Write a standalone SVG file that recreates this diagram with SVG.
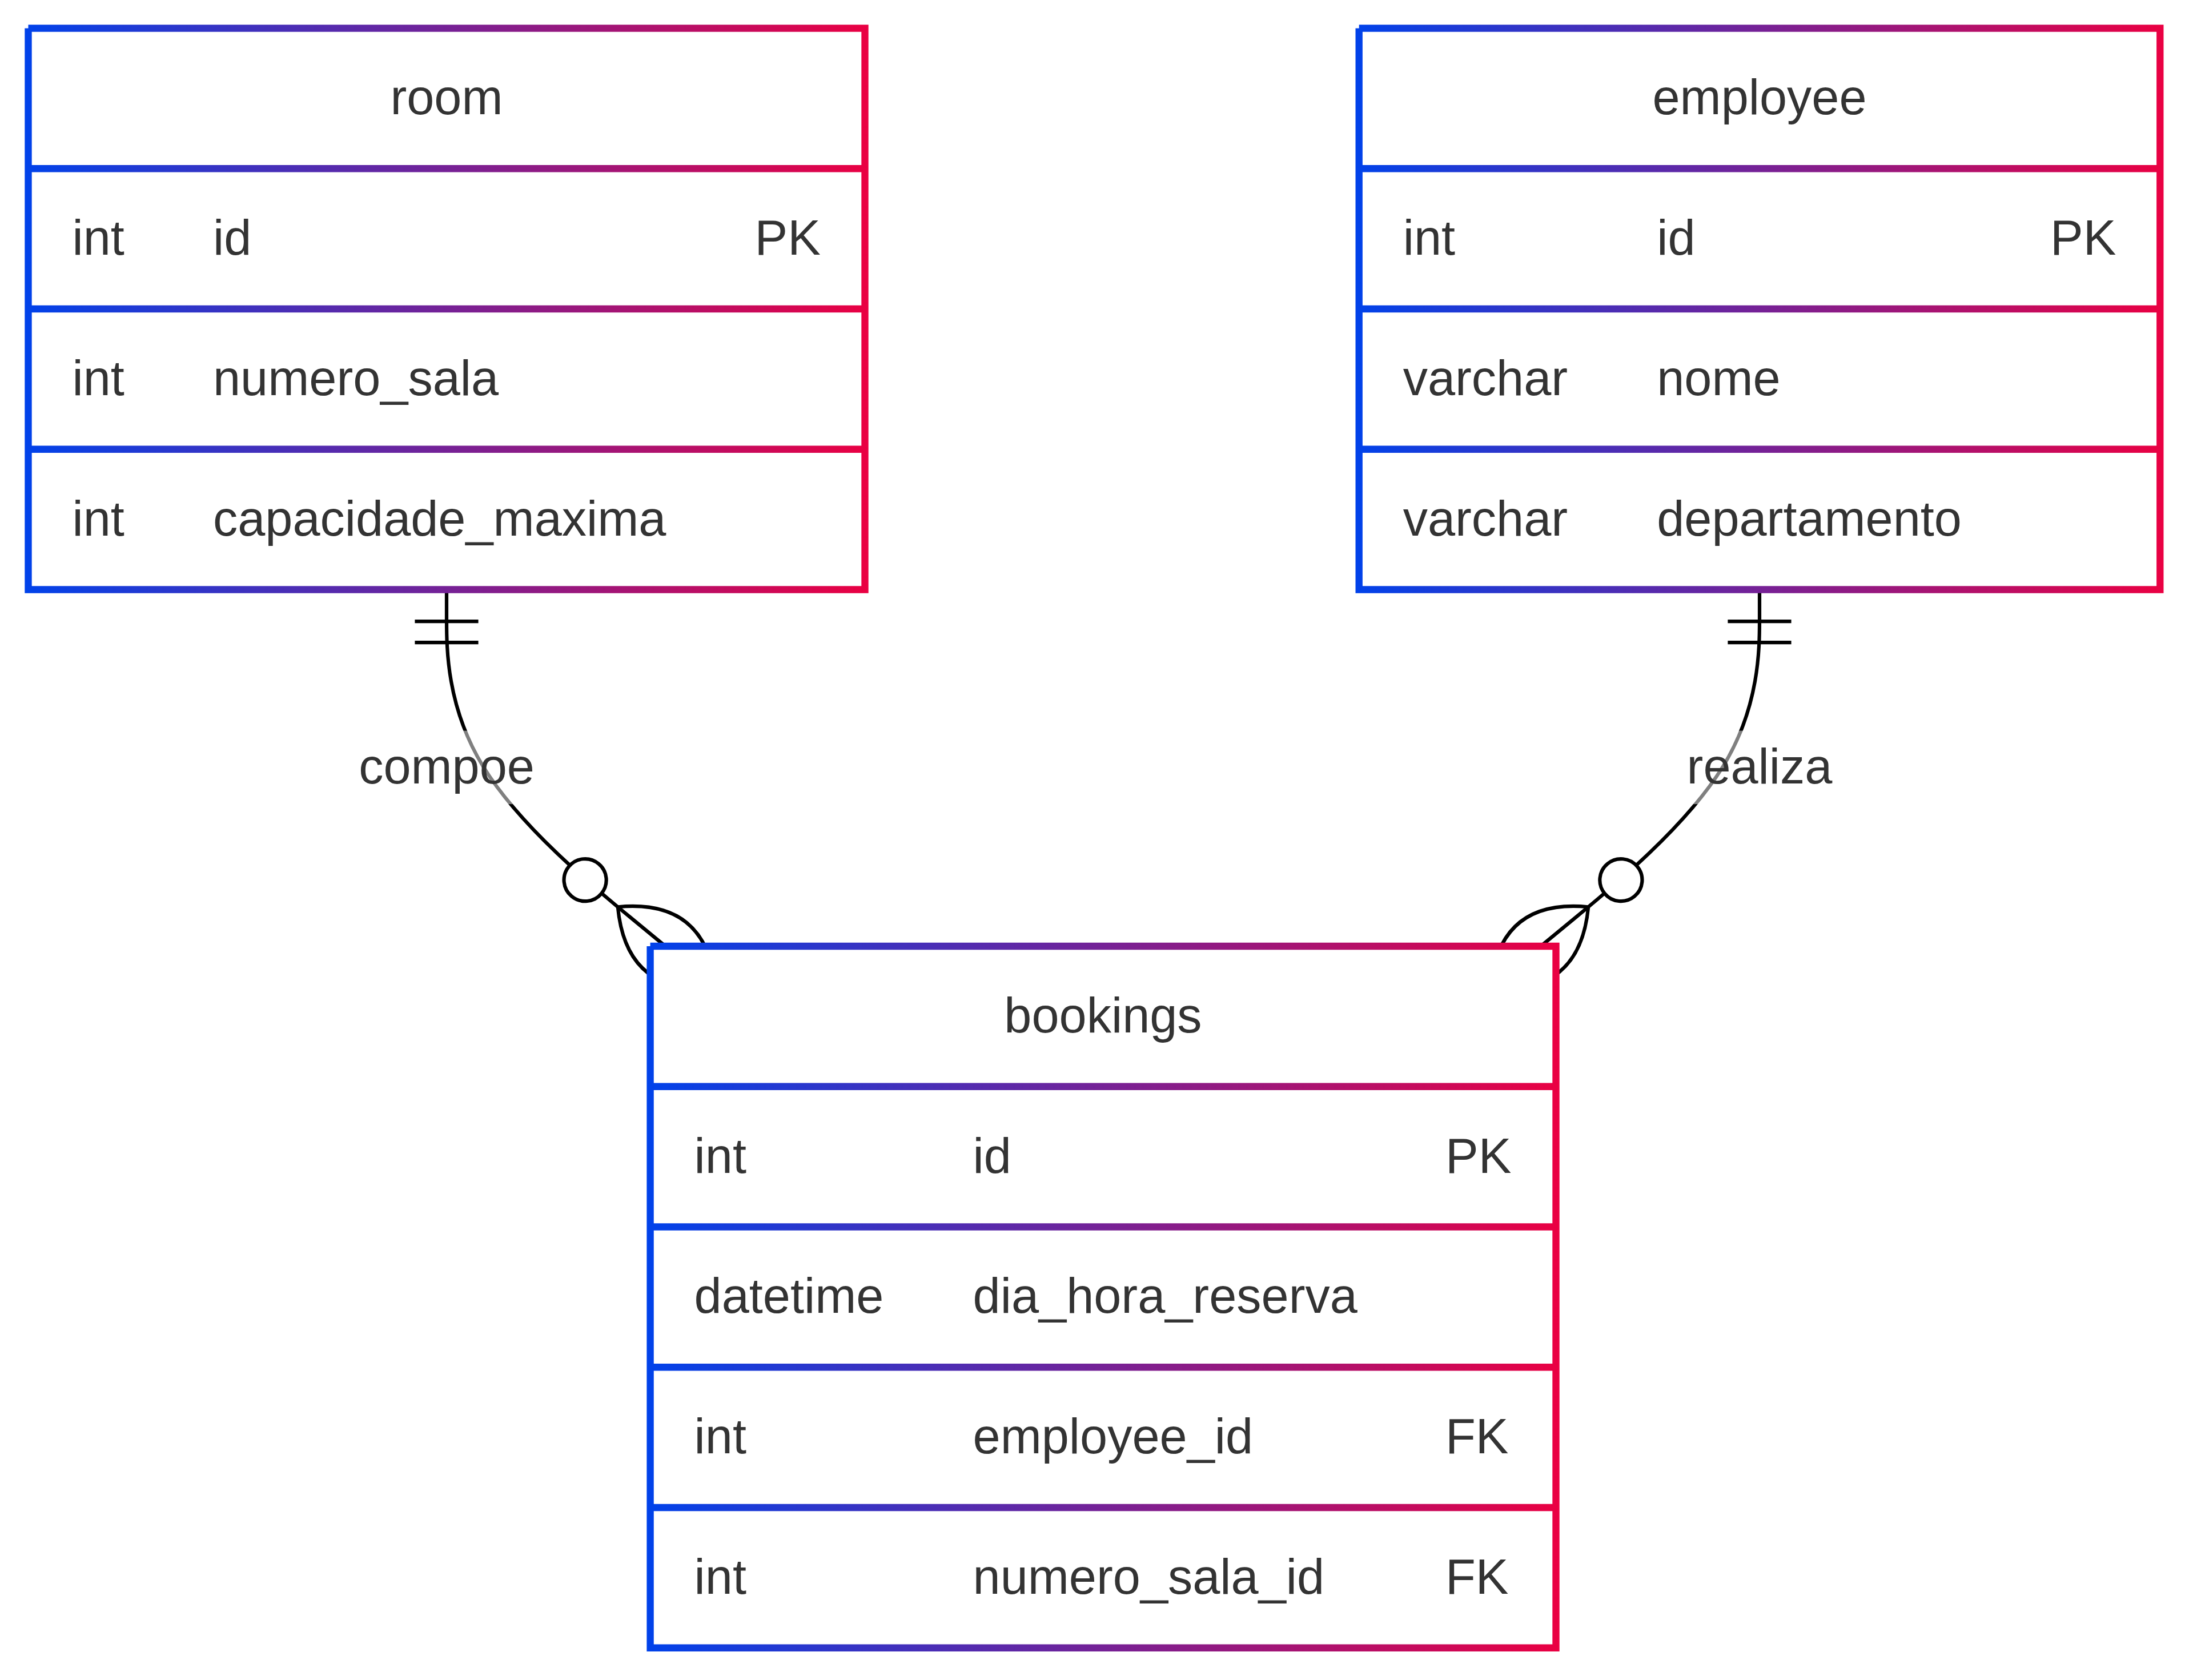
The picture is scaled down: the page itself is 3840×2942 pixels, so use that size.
<svg xmlns="http://www.w3.org/2000/svg" width="3840" height="2942" viewBox="0 0 3840 2942">
<style>
.t{font-family:"Liberation Sans",Arial,Helvetica,sans-serif;font-size:86.5px;fill:#333333}
.c{text-anchor:middle}
.edge{fill:none;stroke:#000000;stroke-width:6.175}
.lblbg{fill:#ffffff;opacity:0.5}
.box{fill:#ffffff;stroke-width:12.35;stroke-linejoin:miter;stroke-linecap:butt}
.div{fill:none;stroke-width:12.35;stroke-linecap:butt}
.mk{fill:none;stroke:#000000;stroke-width:1}
.mkc{fill:#ffffff;stroke:#000000;stroke-width:1}
</style>
<defs>
<linearGradient id="gRoom" gradientUnits="userSpaceOnUse" x1="43" y1="0" x2="1521" y2="0">
<stop offset="0" stop-color="#0042ea"/><stop offset="1" stop-color="#ea0042"/>
</linearGradient>
<linearGradient id="gEmp" gradientUnits="userSpaceOnUse" x1="2373" y1="0" x2="3789" y2="0">
<stop offset="0" stop-color="#0042ea"/><stop offset="1" stop-color="#ea0042"/>
</linearGradient>
<linearGradient id="gBook" gradientUnits="userSpaceOnUse" x1="1132" y1="0" x2="2731" y2="0">
<stop offset="0" stop-color="#0042ea"/><stop offset="1" stop-color="#ea0042"/>
</linearGradient>
<marker id="onlyOneStart" markerUnits="strokeWidth" refX="0" refY="9" markerWidth="18" markerHeight="18" orient="auto" overflow="visible">
<path class="mk" d="M9,0 L9,18 M15,0 L15,18"/>
</marker>
<marker id="zeroOrMoreEnd" markerUnits="strokeWidth" refX="39" refY="18" markerWidth="57" markerHeight="36" orient="auto" overflow="visible">
<circle class="mkc" cx="9" cy="18" r="6"/>
<path class="mk" d="M21,18 Q39,0 57,18 Q39,36 21,18"/>
</marker>
</defs>
<rect x="0" y="0" width="3840" height="2942" fill="#ffffff"/>

<g id="connectors">
<g id="edge-room-bookings">
<path class="edge" marker-start="url(#onlyOneStart)" marker-end="url(#zeroOrMoreEnd)" d="M782,1032.5 L782,1083.9 C782,1135.3 782,1238.2 846.25,1342.6 C910.5,1447 1039,1553 1103.25,1606 L1167.5,1659"/>
<rect class="lblbg" x="628" y="1279.6" width="308" height="128.6"/>
<text class="t c" x="782" y="1372.4">compoe</text>
</g>
<g id="edge-employee-bookings">
<path class="edge" marker-start="url(#onlyOneStart)" marker-end="url(#zeroOrMoreEnd)" d="M3081,1032.5 L3081,1083.9 C3081,1135.3 3081,1238.2 3016.75,1342.6 C2952.5,1447 2824,1553 2759.75,1606 L2695.5,1659"/>
<rect class="lblbg" x="2953.5" y="1279.6" width="255" height="128.6"/>
<text class="t c" x="3081" y="1372.4">realiza</text>
</g>
</g>

<g id="node-room">
<path class="box" stroke="url(#gRoom)" d="M49.5,49.5 L1514.5,49.5 L1514.5,1032.5 L49.5,1032.5 L49.5,49.5"/>
<path class="div" stroke="url(#gRoom)" d="M49.5,295.25 H1514.5 M49.5,541 H1514.5 M49.5,786.75 H1514.5"/>
<text class="t c" x="782" y="200.4">room</text>
<text class="t" x="126.5" y="446.1">int</text>
<text class="t" x="373" y="446.1">id</text>
<text class="t" x="1321.5" y="446.1">PK</text>
<text class="t" x="126.5" y="691.9">int</text>
<text class="t" x="373" y="691.9">numero_sala</text>
<text class="t" x="126.5" y="937.6">int</text>
<text class="t" x="373" y="937.6">capacidade_maxima</text>
</g>

<g id="node-employee">
<path class="box" stroke="url(#gEmp)" d="M2379.7,49.5 L3782.3,49.5 L3782.3,1032.5 L2379.7,1032.5 L2379.7,49.5"/>
<path class="div" stroke="url(#gEmp)" d="M2379.7,295.25 H3782.3 M2379.7,541 H3782.3 M2379.7,786.75 H3782.3"/>
<text class="t c" x="3081" y="200.4">employee</text>
<text class="t" x="2456.7" y="446.1">int</text>
<text class="t" x="2901.2" y="446.1">id</text>
<text class="t" x="3590" y="446.1">PK</text>
<text class="t" x="2456.7" y="691.9">varchar</text>
<text class="t" x="2901.2" y="691.9">nome</text>
<text class="t" x="2456.7" y="937.6">varchar</text>
<text class="t" x="2901.2" y="937.6">departamento</text>
</g>

<g id="node-bookings">
<path class="box" stroke="url(#gBook)" d="M1138.6,1657 L2724.5,1657 L2724.5,2885.75 L1138.6,2885.75 L1138.6,1657"/>
<path class="div" stroke="url(#gBook)" d="M1138.6,1902.75 H2724.5 M1138.6,2148.5 H2724.5 M1138.6,2394.25 H2724.5 M1138.6,2640 H2724.5"/>
<text class="t c" x="1931.5" y="1807.9">bookings</text>
<text class="t" x="1215.6" y="2053.6">int</text>
<text class="t" x="1703.6" y="2053.6">id</text>
<text class="t" x="2531" y="2053.6">PK</text>
<text class="t" x="1215.6" y="2299.4">datetime</text>
<text class="t" x="1703.6" y="2299.4">dia_hora_reserva</text>
<text class="t" x="1215.6" y="2545.1">int</text>
<text class="t" x="1703.6" y="2545.1">employee_id</text>
<text class="t" x="2531" y="2545.1">FK</text>
<text class="t" x="1215.6" y="2790.9">int</text>
<text class="t" x="1703.6" y="2790.9">numero_sala_id</text>
<text class="t" x="2531" y="2790.9">FK</text>
</g>
</svg>
